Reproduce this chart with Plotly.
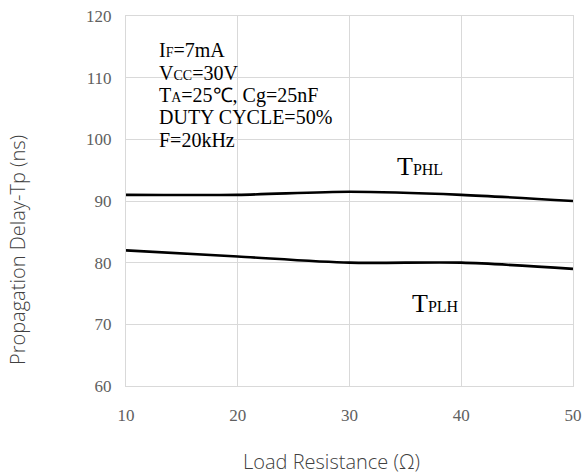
import plotly.graph_objects as go

load_resistance = [10, 20, 30, 40, 50]
tphl = [91, 91, 91.5, 91, 90]
tplh = [82, 81, 80, 80, 79]
y_ticks = [60, 70, 80, 90, 100, 110, 120]
x_ticks = [10, 20, 30, 40, 50]

SUB = "<span style='font-size:14px'>{}</span>"
condition_lines = [
    "I" + SUB.format("F") + "=7mA",
    "V" + SUB.format("CC") + "=30V",
    "T" + SUB.format("A") + "=25\u2103, Cg=25nF",
    "DUTY CYCLE=50%",
    "F=20kHz",
]

W, H = 586, 475
L, T, PW, PH = 126, 16, 447, 370


def px_x(px):
    return (px - L) / PW


def px_y(py):
    return (T + PH - py) / PH


fig = go.Figure()
for ys in (tphl, tplh):
    fig.add_trace(go.Scatter(x=load_resistance, y=ys, mode="lines",
                             line=dict(color="black", width=2.6, shape="spline", smoothing=0.8),
                             showlegend=False, hoverinfo="skip"))

for i, line in enumerate(condition_lines):
    fig.add_annotation(x=px_x(157), y=px_y(50 + 22.5 * i), xref="paper", yref="paper",
                       text=line, showarrow=False, xanchor="left", yanchor="middle", align="left",
                       font=dict(family="Liberation Serif", size=20, color="black"))

CURVE_SUB = "<span style='font-size:16px'>{}</span>"
fig.add_annotation(x=px_x(395), y=px_y(166), xref="paper", yref="paper",
                   text="T" + CURVE_SUB.format("PHL"), showarrow=False,
                   xanchor="left", yanchor="middle",
                   font=dict(family="Liberation Serif", size=26, color="black"))
fig.add_annotation(x=px_x(410), y=px_y(303), xref="paper", yref="paper",
                   text="T" + CURVE_SUB.format("PLH"), showarrow=False,
                   xanchor="left", yanchor="middle",
                   font=dict(family="Liberation Serif", size=26, color="black"))

fig.add_annotation(x=px_x(331), y=px_y(461), xref="paper", yref="paper",
                   text="Load Resistance (\u03a9)", showarrow=False,
                   xanchor="center", yanchor="middle",
                   font=dict(family="Open Sans", size=20, color="#404040", weight=300))
fig.add_annotation(x=px_x(17), y=px_y(250), xref="paper", yref="paper",
                   text="Propagation Delay-Tp (ns)", showarrow=False, textangle=-90,
                   xanchor="center", yanchor="middle",
                   font=dict(family="Open Sans", size=20, color="#404040", weight=300))

fig.update_layout(
    width=W, height=H,
    margin=dict(l=L, r=W - L - PW, t=T, b=H - T - PH, autoexpand=False),
    paper_bgcolor="white", plot_bgcolor="white",
    xaxis=dict(range=[10, 50], tickvals=x_ticks, showgrid=True, gridcolor="#d9d9d9", gridwidth=1,
               showline=True, mirror=True, linecolor="#d9d9d9", linewidth=1, zeroline=False,
               ticks="outside", ticklen=14, tickcolor="rgba(0,0,0,0)",
               ticklabeloverflow="allow",
               tickfont=dict(family="Liberation Serif", size=17, color="#606060")),
    yaxis=dict(range=[60, 120], tickvals=y_ticks, showgrid=True, gridcolor="#d9d9d9", gridwidth=1,
               showline=True, mirror=True, linecolor="#d9d9d9", linewidth=1, zeroline=False,
               ticks="outside", ticklen=10, tickcolor="rgba(0,0,0,0)",
               ticklabeloverflow="allow",
               tickfont=dict(family="Liberation Serif", size=17, color="#606060")),
)

fig.write_html("out.html", config={"displayModeBar": False},
               post_script="document.body.style.margin='0';document.body.style.overflow='hidden';")
